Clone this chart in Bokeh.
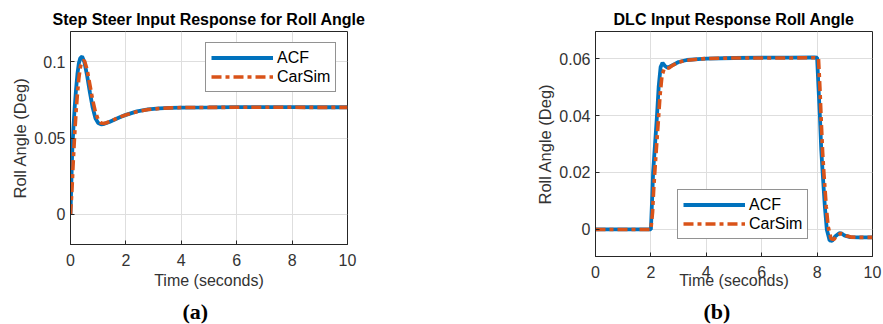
from bokeh.plotting import figure
from bokeh.layouts import row
from bokeh.models import FixedTicker, CustomJSTickFormatter, Legend, LegendItem, Title
from bokeh.embed import file_html
from bokeh.resources import INLINE

# ---------------- data ----------------
x_ticks = [0, 2, 4, 6, 8, 10]
step_y_ticks = [0, 0.05, 0.1]
dlc_y_ticks = [0, 0.02, 0.04, 0.06]

step_t_acf = [0, 0.03, 0.06, 0.1, 0.15, 0.2, 0.25, 0.3, 0.35, 0.42, 0.5, 0.6, 0.7, 0.8, 0.9,
              1.0, 1.1, 1.2, 1.4, 1.6, 1.8, 2.0, 2.4, 2.8, 3.2, 3.6, 4.0, 5.0, 6.0, 7.0, 8.0, 9.0, 10.0]
step_y_acf = [0, 0.02, 0.04, 0.055, 0.07, 0.082, 0.092, 0.099, 0.1025, 0.1035, 0.1, 0.091, 0.08, 0.07, 0.063,
              0.0598, 0.059, 0.0592, 0.0605, 0.0622, 0.0638, 0.0652, 0.0675, 0.0688, 0.0695, 0.0698, 0.07,
              0.0701, 0.0703, 0.0703, 0.0703, 0.0702, 0.0702]

step_t_carsim = [0, 0.05, 0.1, 0.15, 0.2, 0.25, 0.3, 0.35, 0.4, 0.5, 0.6, 0.7, 0.8, 0.9, 1.0, 1.1, 1.2,
                 1.3, 1.5, 1.7, 2.0, 2.4, 2.8, 3.2, 3.6, 4.0, 5.0, 6.0, 7.0, 8.0, 9.0, 10.0]
step_y_carsim = [0, 0.015, 0.035, 0.052, 0.067, 0.079, 0.089, 0.096, 0.1, 0.101, 0.095, 0.085, 0.075,
                 0.067, 0.062, 0.0598, 0.0595, 0.06, 0.0615, 0.0632, 0.0652, 0.0673, 0.0687, 0.0694,
                 0.0698, 0.07, 0.0701, 0.0702, 0.0702, 0.0702, 0.0701, 0.0701]

dlc_t_acf = [0, 1.0, 2.0, 2.05, 2.08, 2.15, 2.22, 2.28, 2.35, 2.42, 2.5, 2.6, 2.8, 3.0, 3.3, 3.7, 4.0,
             5.0, 6.0, 7.0, 7.9, 8.0, 8.05, 8.1, 8.15, 8.2, 8.28, 8.35, 8.45, 8.55, 8.65, 8.8, 8.9, 9.0,
             9.2, 9.5, 10.0]
dlc_y_acf = [0, 0, 0, 0.012, 0.02, 0.03, 0.04, 0.05, 0.057, 0.0585, 0.0575, 0.0568, 0.0578, 0.0588,
             0.0595, 0.0598, 0.06, 0.0602, 0.0603, 0.0603, 0.0604, 0.0603, 0.05, 0.04, 0.028, 0.02,
             0.008, 0.0, -0.0038, -0.004, -0.0025, -0.0013, -0.0015, -0.0022, -0.0027, -0.0028, -0.0028]

dlc_t_carsim = [0, 1.0, 2.0, 2.06, 2.1, 2.18, 2.26, 2.33, 2.4, 2.48, 2.55, 2.65, 2.8, 3.0, 3.3, 3.7,
                4.0, 5.0, 6.0, 7.0, 7.9, 8.05, 8.1, 8.15, 8.2, 8.25, 8.33, 8.4, 8.5, 8.6, 8.7, 8.85,
                8.95, 9.05, 9.25, 9.5, 10.0]
dlc_y_carsim = [0, 0, 0, 0.006, 0.014, 0.026, 0.037, 0.047, 0.054, 0.0565, 0.0565, 0.0567, 0.0577,
                0.0587, 0.0594, 0.0598, 0.06, 0.0602, 0.0602, 0.0602, 0.0603, 0.06, 0.05, 0.038,
                0.027, 0.019, 0.008, 0.001, -0.0032, -0.0036, -0.0024, -0.0014, -0.0016, -0.0022,
                -0.0027, -0.0028, -0.0028]

# ---------------- styling ----------------
FONT = "Liberation Sans"
AX = "#262626"
BLUE = "#0072BD"
ORANGE = "#D95319"


def make(title, panel, t1, y1, t2, y2, yticks, yrange, frame_h, left, right, bottom,
         legend_loc, xlabel_standoff, panel_offset):
    p = figure(frame_width=277, frame_height=frame_h, x_range=(0, 10), y_range=yrange,
               output_backend="svg", toolbar_location=None,
               min_border_left=left, min_border_right=right, min_border_top=31,
               min_border_bottom=bottom, background_fill_color="white",
               border_fill_color="white")
    p.title.text = title
    p.title.text_font = FONT
    p.title.text_font_size = "16px"
    p.title.text_font_style = "bold"
    p.title.text_color = "#000000"
    p.title.align = "center"
    p.title.standoff = 7

    p.xaxis.ticker = FixedTicker(ticks=x_ticks)
    p.yaxis.ticker = FixedTicker(ticks=yticks)
    fmt = "return String(parseFloat(tick.toFixed(4)));"
    p.xaxis.formatter = CustomJSTickFormatter(code=fmt)
    p.yaxis.formatter = CustomJSTickFormatter(code=fmt)
    for ax in (p.xaxis, p.yaxis):
        ax.major_tick_in = 4
        ax.major_tick_out = 0
        ax.minor_tick_in = 0
        ax.minor_tick_out = 0
        ax.axis_line_color = AX
        ax.major_tick_line_color = AX
        ax.major_label_text_font = FONT
        ax.major_label_text_font_size = "16px"
        ax.major_label_text_color = "#333333"
        ax.axis_label_text_font = FONT
        ax.axis_label_text_font_style = "normal"
        ax.axis_label_text_color = "#333333"
    p.xaxis.axis_label_text_font_size = "16px"
    p.yaxis.axis_label_text_font_size = "16.5px"
    p.xaxis.axis_label = "Time (seconds)"
    p.yaxis.axis_label = "Roll Angle (Deg)"
    p.xaxis.major_label_standoff = 9
    p.yaxis.major_label_standoff = 5
    p.xaxis.axis_label_standoff = xlabel_standoff
    p.yaxis.axis_label_standoff = 2

    p.grid.grid_line_color = "#dedede"
    p.grid.grid_line_width = 1
    p.outline_line_color = AX
    p.outline_line_width = 1
    p.outline_line_alpha = 1

    r1 = p.line(t1, y1, line_color=BLUE, line_width=3.8)
    r2 = p.line(t2, y2, line_color=ORANGE, line_width=3.6, line_dash="10 4 4 4")

    leg = Legend(items=[LegendItem(label="ACF", renderers=[r1]),
                        LegendItem(label="CarSim", renderers=[r2])],
                 location=legend_loc, margin=0, padding=5, spacing=0,
                 label_standoff=4, glyph_width=62, glyph_height=19, label_height=19,
                 label_text_font=FONT, label_text_font_size="16px", label_text_color="#000000",
                 border_line_color=AX, border_line_width=1, background_fill_color="white",
                 background_fill_alpha=1)
    p.add_layout(leg)

    p.add_layout(Title(text=panel, align="left", offset=panel_offset, vertical_align="top",
                       text_font="Liberation Serif", text_font_size="22px",
                       text_font_style="bold", text_color="#000000", standoff=14), "below")
    return p


pa = make("Step Steer Input Response for Roll Angle", "(a)",
          step_t_acf, step_y_acf, step_t_carsim, step_y_carsim,
          step_y_ticks, (-0.02, 0.12), 213, 70, 98, 80, (135, 152), 3, 112)
pb = make("DLC Input Response Roll Angle", "(b)",
          dlc_t_acf, dlc_y_acf, dlc_t_carsim, dlc_y_carsim,
          dlc_y_ticks, (-0.0095, 0.0695), 225, 150, 11, 68, (82, 17), -9, 108)

layout = row(pa, pb)
open("out.html", "w").write(file_html(layout, INLINE))
